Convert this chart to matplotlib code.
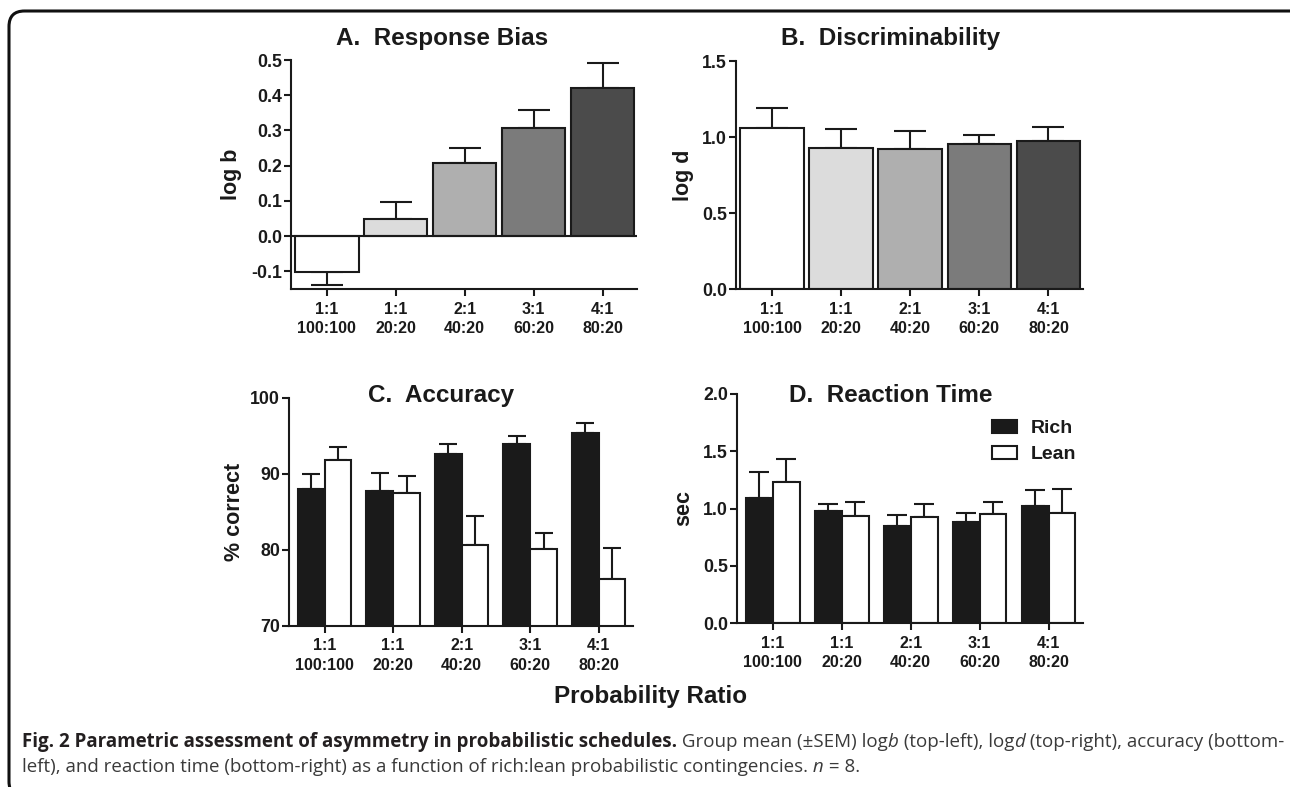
import matplotlib
matplotlib.use("Agg")
import matplotlib.pyplot as plt
from matplotlib.patches import Patch, FancyBboxPatch
import numpy as np

# ---------------- data ----------------
ratio_labels = ["1:1\n100:100", "1:1\n20:20", "2:1\n40:20", "3:1\n60:20", "4:1\n80:20"]

bias_mean = [-0.103, 0.050, 0.207, 0.306, 0.420]
bias_sem = [0.036, 0.046, 0.042, 0.053, 0.071]

disc_mean = [1.058, 0.926, 0.924, 0.955, 0.972]
disc_sem = [0.135, 0.125, 0.116, 0.057, 0.092]

acc_rich = [88.0, 87.8, 92.6, 93.9, 95.45]
acc_rich_sem = [2.0, 2.3, 1.4, 1.15, 1.25]
acc_lean = [91.85, 87.5, 80.7, 80.1, 76.2]
acc_lean_sem = [1.75, 2.2, 3.8, 2.1, 4.05]

rt_rich = [1.09, 0.974, 0.843, 0.881, 1.020]
rt_rich_sem = [0.227, 0.067, 0.096, 0.078, 0.143]
rt_lean = [1.233, 0.936, 0.930, 0.956, 0.962]
rt_lean_sem = [0.203, 0.122, 0.111, 0.102, 0.212]

series_names = ["Rich", "Lean"]
panel_titles = ["A.  Response Bias", "B.  Discriminability", "C.  Accuracy", "D.  Reaction Time"]
panel_ylabels = ["log b", "log d", "% correct", "sec"]
xlabel_common = "Probability Ratio"

caption_line1 = [
    ("Fig. 2 Parametric assessment of asymmetry in probabilistic schedules.", "bold", "normal"),
    (" Group mean (\u00b1SEM) log", "normal", "normal"),
    ("b", "normal", "italic"),
    (" (top-left), log", "normal", "normal"),
    ("d", "normal", "italic"),
    (" (top-right), accuracy (bottom-", "normal", "normal"),
]
caption_line2 = [
    ("left), and reaction time (bottom-right) as a function of rich:lean probabilistic contingencies.", "normal", "normal"),
    (" n", "normal", "italic"),
    (" = 8.", "normal", "normal"),
]

# ---------------- style ----------------
plt.rcParams['font.family'] = ['Liberation Sans', 'DejaVu Sans']
plt.rcParams['font.weight'] = 'bold'
plt.rcParams['axes.unicode_minus'] = False

W, H = 1290, 787
fig = plt.figure(figsize=(W / 100, H / 100), dpi=100)
ink = '#1a1a1a'
LW = 1.5

single_colors = ['#ffffff', '#dcdcdc', '#afafaf', '#7b7b7b', '#4b4b4b']
rich_color = '#1a1a1a'
lean_color = '#ffffff'


def px_axes(l, t, r, b):
    return fig.add_axes([l / W, 1 - b / H, (r - l) / W, (b - t) / H])


def style_axes(ax, ylim, yticks, ylabel, label_x_px, ax_left_px, ax_width_px):
    ax.set_xlim(-0.52, 4.5)
    ax.set_ylim(*ylim)
    ax.set_yticks(yticks)
    ax.set_yticklabels(["%g" % v if abs(v) >= 10 else "%.1f" % v for v in yticks])
    ax.set_xticks(range(len(ratio_labels)))
    ax.set_xticklabels(ratio_labels, fontsize=11.5, fontweight='bold', linespacing=1.35)
    for lab in ax.get_yticklabels():
        lab.set_fontsize(12.8)
        lab.set_fontweight('bold')
    ax.tick_params(axis='both', direction='out', length=5, width=LW, color=ink, labelcolor=ink)
    ax.tick_params(axis='y', pad=1.5)
    ax.tick_params(axis='x', pad=4)
    for s in ['top', 'right']:
        ax.spines[s].set_visible(False)
    for s in ['left', 'bottom']:
        ax.spines[s].set_linewidth(LW)
        ax.spines[s].set_color(ink)
    ax.set_ylabel(ylabel, fontsize=15.5, fontweight='bold', color=ink, va='center')
    ax.yaxis.set_label_coords((label_x_px - ax_left_px) / ax_width_px, 0.5)
    ax.patch.set_alpha(0)


x = np.arange(len(ratio_labels))

# Panel A
axA = px_axes(291, 60, 637, 289)
lower = [s if m < 0 else 0 for m, s in zip(bias_mean, bias_sem)]
upper = [s if m >= 0 else 0 for m, s in zip(bias_mean, bias_sem)]
axA.errorbar(x, bias_mean, yerr=[lower, upper], fmt='none', ecolor=ink,
             elinewidth=LW, capsize=11.5, capthick=LW, zorder=1)
axA.bar(x, bias_mean, width=0.92, color=single_colors, edgecolor=ink, linewidth=LW, zorder=2)
axA.axhline(0, color=ink, lw=LW, zorder=3)
style_axes(axA, (-0.15, 0.5), [-0.1, 0.0, 0.1, 0.2, 0.3, 0.4, 0.5], panel_ylabels[0], 231, 291, 346)

# Panel B
axB = px_axes(736, 61, 1083, 289)
axB.errorbar(x, disc_mean, yerr=[[0] * 5, disc_sem], fmt='none', ecolor=ink,
             elinewidth=LW, capsize=11.5, capthick=LW, zorder=1)
axB.bar(x, disc_mean, width=0.92, color=single_colors, edgecolor=ink, linewidth=LW, zorder=2)
style_axes(axB, (0, 1.5), [0.0, 0.5, 1.0, 1.5], panel_ylabels[1], 683, 736, 347)

# Panel C
bw = 0.39
axC = px_axes(289, 398, 633, 626)
axC.errorbar(x - bw / 2, acc_rich, yerr=[[0] * 5, acc_rich_sem], fmt='none', ecolor=ink,
             elinewidth=LW, capsize=6.5, capthick=LW, zorder=1)
axC.errorbar(x + bw / 2, acc_lean, yerr=[[0] * 5, acc_lean_sem], fmt='none', ecolor=ink,
             elinewidth=LW, capsize=6.5, capthick=LW, zorder=1)
axC.bar(x - bw / 2, acc_rich, width=bw, bottom=0, color=rich_color, edgecolor=ink, linewidth=LW, zorder=2)
axC.bar(x + bw / 2, acc_lean, width=bw, bottom=0, color=lean_color, edgecolor=ink, linewidth=LW, zorder=2)
style_axes(axC, (70, 100), [70, 80, 90, 100], panel_ylabels[2], 235, 289, 344)

# Panel D
axD = px_axes(737, 394, 1083, 623)
axD.errorbar(x - bw / 2, rt_rich, yerr=[[0] * 5, rt_rich_sem], fmt='none', ecolor=ink,
             elinewidth=LW, capsize=7, capthick=LW, zorder=1)
axD.errorbar(x + bw / 2, rt_lean, yerr=[[0] * 5, rt_lean_sem], fmt='none', ecolor=ink,
             elinewidth=LW, capsize=7, capthick=LW, zorder=1)
axD.bar(x - bw / 2, rt_rich, width=bw, color=rich_color, edgecolor=ink, linewidth=LW, zorder=2)
axD.bar(x + bw / 2, rt_lean, width=bw, color=lean_color, edgecolor=ink, linewidth=LW, zorder=2)
style_axes(axD, (0, 2.0), [0.0, 0.5, 1.0, 1.5, 2.0], panel_ylabels[3], 684, 737, 346)

handles = [Patch(facecolor=rich_color, edgecolor=ink, linewidth=LW, label=series_names[0]),
           Patch(facecolor=lean_color, edgecolor=ink, linewidth=LW, label=series_names[1])]
leg = axD.legend(handles=handles, loc='upper right', bbox_to_anchor=(1076 / W, 1 - 420 / H),
                 bbox_transform=fig.transFigure, frameon=False, borderpad=0, borderaxespad=0,
                 prop={'family': 'Liberation Sans', 'weight': 'bold', 'size': 14},
                 handlelength=1.3, handleheight=0.68, handletextpad=0.7, labelspacing=0.42)
for t in leg.get_texts():
    t.set_color(ink)

# Titles
title_pos = [(442, 45), (891, 45), (441, 402), (891, 402)]
for (tx, ty), title in zip(title_pos, panel_titles):
    fig.text(tx / W, 1 - ty / H, title, ha='center', va='baseline', fontsize=17.5,
             fontweight='bold', color=ink)

fig.text(651 / W, 1 - 703 / H, xlabel_common, ha='center', va='baseline', fontsize=17.5,
         fontweight='bold', color=ink)

# Frame
frame = FancyBboxPatch((9 / W, -10 / H), (W + 30 - 9) / W, (H + 10 - 11) / H,
                       boxstyle="round,pad=0,rounding_size=0.012", transform=fig.transFigure,
                       facecolor='none', edgecolor='#111111', linewidth=2.2, clip_on=False,
                       mutation_aspect=W / H)
fig.patches.append(frame)

# Caption with mixed runs
renderer = fig.canvas.get_renderer()
cap_font = ['Open Sans', 'DejaVu Sans']


def draw_runs(runs, x0, ybase, size, draw=True):
    xpos = x0
    texts = []
    for s, weight, style in runs:
        color = '#231f20' if weight == 'bold' else '#3a3a3a'
        t = fig.text(xpos / W, 1 - ybase / H, s, ha='left', va='baseline', fontsize=size,
                     fontweight=weight, fontstyle=style, family=cap_font, color=color)
        bb = t.get_window_extent(renderer=renderer)
        xpos = bb.x1
        texts.append(t)
    if not draw:
        for t in texts:
            t.remove()
    return xpos


size0 = 11.0
end = draw_runs(caption_line1, 22, 747, size0, draw=False)
size = size0 * (1282 - 22) / (end - 22)
draw_runs(caption_line1, 22, 747, size)
draw_runs(caption_line2, 22, 772, size)

fig.savefig("out.png", dpi=100)
